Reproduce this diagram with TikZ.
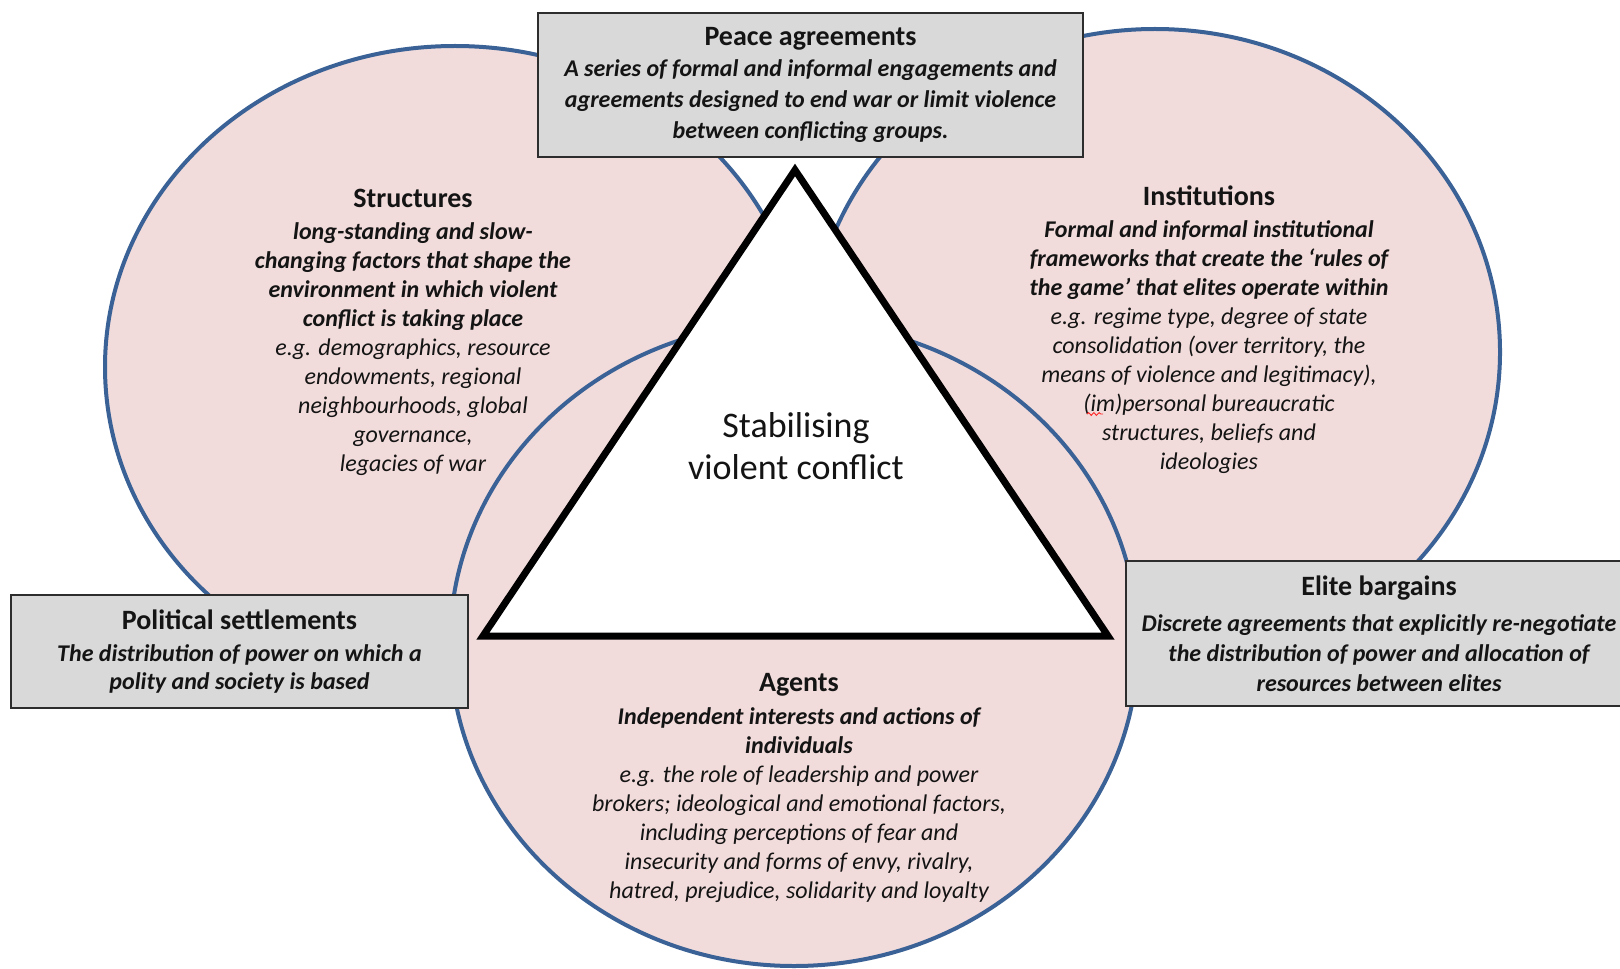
\documentclass[tikz,border=0pt]{standalone}
\usepackage{fontspec}
\setmainfont{Carlito}
\usetikzlibrary{decorations.pathmorphing}
\definecolor{ellfill}{RGB}{242,220,219}
\definecolor{ellline}{RGB}{59,98,150}
\definecolor{boxfill}{RGB}{217,217,217}
\definecolor{boxline}{RGB}{45,45,45}
\definecolor{txt}{RGB}{20,20,20}
\newcommand{\dgHead}{\fontsize{14}{17}\selectfont\bfseries}
\newcommand{\dgBI}{\bfseries\itshape}
\newcommand{\dgIt}{\itshape}
\begin{document}
\begin{tikzpicture}[x=0.5pt,y=-0.5pt,
  ell/.style={fill=ellfill,draw=ellline,line width=2pt},
  tri/.style={fill=white,draw=black,line width=3.5pt,line join=miter},
  box/.style={draw=boxline,fill=boxfill,line width=0.8pt,inner sep=0pt,align=center,text=txt},
  blk/.style={align=center,inner sep=0pt,text=txt},
  squig/.style={draw=red!85!white,line width=0.45pt,decorate,decoration={snake,amplitude=0.7pt,segment length=2.6pt}}]
\useasboundingbox (0,0) rectangle (1620,968);
\clip (0,0) rectangle (1620,968);
\fill[white] (0,0) rectangle (1620,968);
% ellipses
\draw[ell] (455,367) ellipse [x radius=175pt, y radius=160.5pt];
\draw[ell] (1155,352) ellipse [x radius=172.5pt, y radius=161.5pt];
\draw[ell] (794,644) ellipse [x radius=172pt, y radius=161pt];
% triangle
\draw[tri] (795,170) -- (483,636) -- (1108,636) -- cycle;
\node[blk,font=\fontsize{18}{21}\selectfont] (core) at (796,446) {Stabilising\\violent conflict};
% circle texts
\node[blk,font=\fontsize{12}{14.5}\selectfont] (structures) at (413,332)
 {{\dgHead Structures}\\[1.5pt]
  {\dgBI long-standing and slow-}\\
  {\dgBI changing factors that shape the}\\
  {\dgBI environment in which violent}\\
  {\dgBI conflict is taking place}\\
  {\dgIt e.g. demographics, resource}\\
  {\dgIt endowments, regional}\\
  {\dgIt neighbourhoods, global}\\
  {\dgIt governance,}\\
  {\dgIt legacies of war}};
\node[blk,font=\fontsize{12}{14.5}\selectfont] (institutions) at (1209,330)
 {{\dgHead Institutions}\\[1.5pt]
  {\dgBI Formal and informal institutional}\\
  {\dgBI frameworks that create the ‘rules of}\\
  {\dgBI the game’ that elites operate within}\\
  {\dgIt e.g. regime type, degree of state}\\
  {\dgIt consolidation (over territory, the}\\
  {\dgIt means of violence and legitimacy),}\\
  {\dgIt (im)personal bureaucratic}\\
  {\dgIt structures, beliefs and}\\
  {\dgIt ideologies}};
\node[blk,font=\fontsize{12}{14.5}\selectfont] (agents) at (799,788)
 {{\dgHead Agents}\\[2pt]
  {\dgBI Independent interests and actions of}\\
  {\dgBI individuals}\\
  {\dgIt e.g. the role of leadership and power}\\
  {\dgIt brokers; ideological and emotional factors,}\\
  {\dgIt including perceptions of fear and}\\
  {\dgIt insecurity and forms of envy, rivalry,}\\
  {\dgIt hatred, prejudice, solidarity and loyalty}};
% boxes
\node[box,minimum width=272.5pt,minimum height=72pt,font=\fontsize{12}{15.5}\selectfont] (peace) at (810.5,85)
 {{\dgHead Peace agreements}\\
  {\dgBI A series of formal and informal engagements and}\\
  {\dgBI agreements designed to end war or limit violence}\\
  {\dgBI between conflicting groups.}};
\node[box,minimum width=228.5pt,minimum height=56.5pt,font=\fontsize{12}{14}\selectfont] (political) at (239.5,651.5)
 {{\dgHead Political settlements}\\[2pt]
  {\dgBI The distribution of power on which a}\\
  {\dgBI polity and society is based}};
\node[box,minimum width=253pt,minimum height=72.5pt,font=\fontsize{12}{15}\selectfont] (elite) at (1379,633.5)
 {{\dgHead Elite bargains}\\[3pt]
  {\dgBI Discrete agreements that explicitly re-negotiate}\\
  {\dgBI the distribution of power and allocation of}\\
  {\dgBI resources between elites}};
% spell-check mark under "im"
\draw[squig] (1087,414) -- (1103,414);
\end{tikzpicture}
\end{document}
